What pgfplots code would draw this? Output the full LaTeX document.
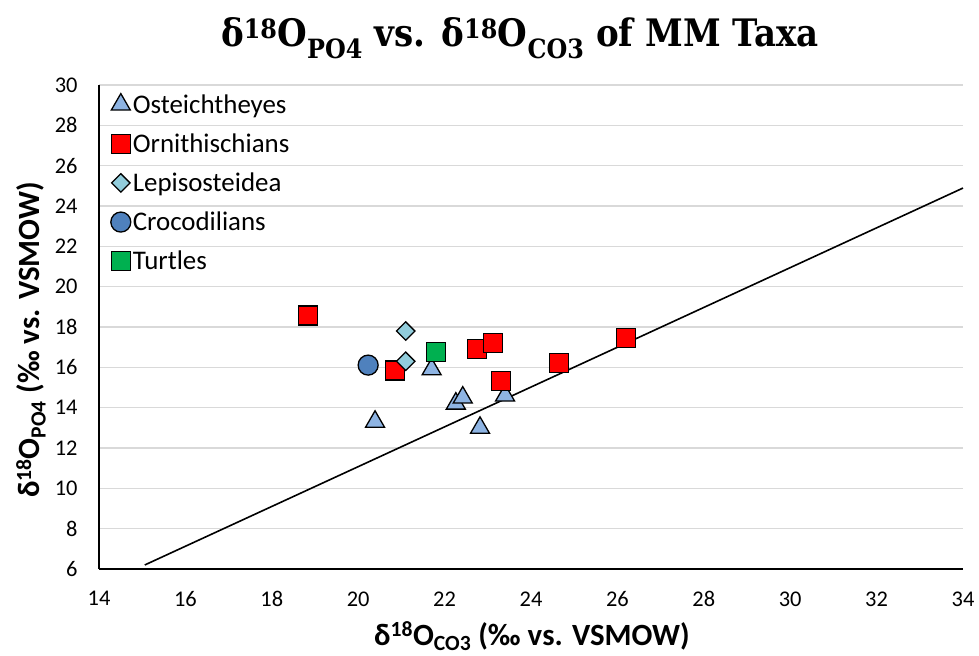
\documentclass[border=0pt]{standalone}
\usepackage{pgfplots}
\pgfplotsset{compat=1.18}
\usepackage{fontspec}
\setmainfont{Carlito}
\newfontfamily\titlefont{DejaVu Serif Condensed}
\usetikzlibrary{calc}
\definecolor{tri}{HTML}{8EB4E3}
\definecolor{sq}{HTML}{FF0000}
\definecolor{dia}{HTML}{92CDDC}
\definecolor{circ}{HTML}{4F81BD}
\definecolor{grn}{HTML}{00B050}
\definecolor{gridc}{HTML}{D9D9D9}
\begin{document}
\begin{tikzpicture}
\begin{axis}[
  name=ax,
  scale only axis,
  width=864bp, height=484bp,
  xmin=14, xmax=34, ymin=6, ymax=30,
  xtick={14,16,...,34}, ytick={6,8,...,30},
  axis x line*=bottom, axis y line*=left,
  axis line style={black, line width=1.5bp},
  x axis line style={-}, y axis line style={-},
  major tick length=0pt,
  ymajorgrids, grid style={gridc, line width=1.5bp},
  tick label style={font=\fontsize{22.5}{24}\selectfont},
  /pgf/number format/assume math mode=true,
  xticklabel style={yshift=-19bp},
  yticklabel style={xshift=-18bp},
  legend style={at={(0.01,0.989)}, anchor=north west, draw=none, fill=none,
    font=\fontsize{27}{30}\selectfont, row sep=15bp,
    legend cell align=left},
  legend image code/.code={\draw[#1] plot coordinates {(0.22cm,0cm)};},
  clip=false,
]
\addplot[mark=triangle*, only marks, mark size=11bp, mark options={fill=tri, draw=black, line width=1.3bp}] coordinates {
(20.39,13.30) (21.70,15.90) (22.26,14.20) (22.42,14.50) (22.82,13.00) (23.40,14.60)
};
\addlegendentry{Osteichtheyes}
\addplot[mark=square*, only marks, mark size=9.5bp, mark options={fill=sq, draw=black, line width=1.3bp}] coordinates {
(18.84,18.57) (20.85,15.84) (22.75,16.90) (23.12,17.20) (23.30,15.32) (24.65,16.21) (26.20,17.45)
};
\addlegendentry{Ornithischians}
\addplot[mark=square*, only marks, mark size=6.5bp, mark options={fill=dia, draw=black, line width=1.3bp, rotate=45}] coordinates {
(21.10,17.80) (21.10,16.30)
};
\addlegendentry{Lepisosteidea}
\addplot[mark=*, only marks, mark size=10bp, mark options={fill=circ, draw=black, line width=1.3bp}] coordinates {
(20.23,16.11)
};
\addlegendentry{Crocodilians}
\addplot[mark=square*, only marks, mark size=9.5bp, mark options={fill=grn, draw=black, line width=1.3bp}] coordinates {
(21.80,16.76)
};
\addlegendentry{Turtles}
\addplot[black, line width=1.6bp, no marks, forget plot] coordinates {(15.06,6.20) (34,24.89)};
\end{axis}
\node[anchor=base, font=\titlefont\bfseries\fontsize{38}{42}\selectfont] at ($(ax.north west)+(421bp,38bp)$)
  {δ\textsuperscript{18}O\textsubscript{PO4} vs. δ\textsuperscript{18}O\textsubscript{CO3} of MM Taxa};
\node[anchor=base, font=\bfseries\fontsize{31}{34}\selectfont] at ($(ax.south west)+(433bp,-76bp)$)
  {δ\textsuperscript{18}O\textsubscript{CO3} (‰ vs. VSMOW)};
\node[anchor=base, rotate=90, font=\bfseries\fontsize{31}{34}\selectfont] at ($(ax.south west)+(-59bp,229bp)$)
  {δ\textsuperscript{18}O\textsubscript{PO4} (‰ vs. VSMOW)};
\pgfresetboundingbox
\path[use as bounding box] ($(ax.south west)+(-99bp,-87bp)$) rectangle ($(ax.north east)+(16bp,85bp)$);
\end{tikzpicture}
\end{document}
